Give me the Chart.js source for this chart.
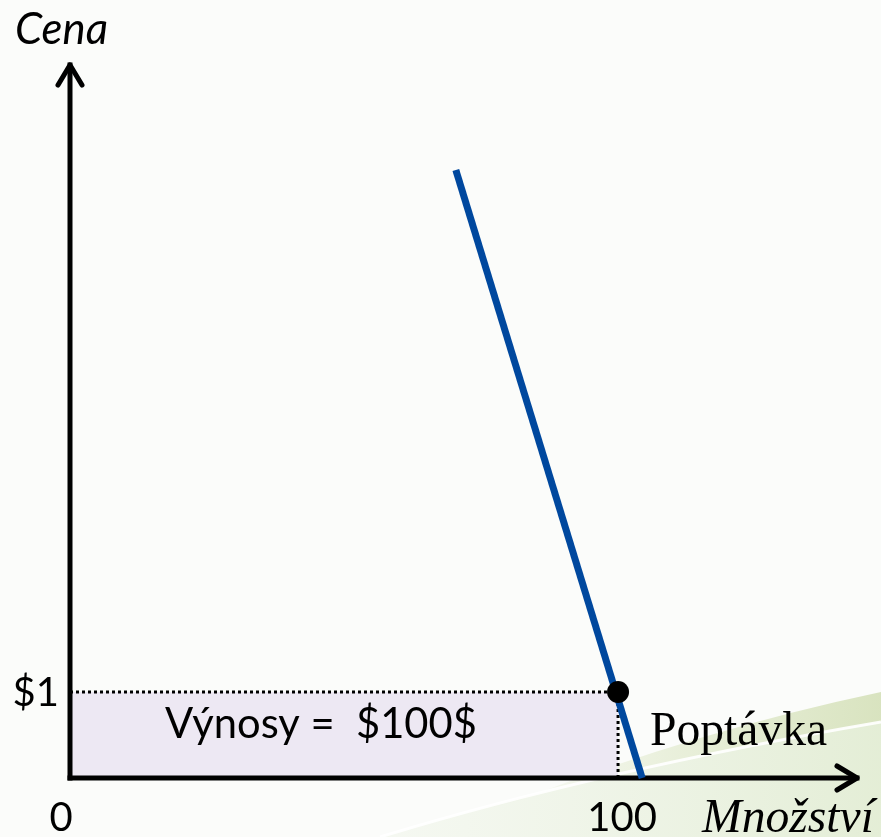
<!DOCTYPE html>
<html>
<head>
<meta charset="utf-8">
<script src="https://cdn.jsdelivr.net/npm/chart.js@4.4.0/dist/chart.umd.min.js"></script>
<style>
  html, body { margin: 0; padding: 0; background: #fbfcfa; }
  #wrap { width: 881px; height: 837px; position: relative; }
</style>
</head>
<body>
<div id="wrap"><canvas id="c" width="881" height="837"></canvas></div>
<script>
// ---- data ----
const axisLabels = ["Cena", "Množství"];
const quantityTicks = [0, 100];
const quantityTickLabels = ["0", "100"];
const priceTicks = [1];
const priceTickLabels = ["$1"];
const quantityRange = [0, 143.6];
const priceRange = [0, 8.29];
const demandQuantity = [70.4, 104.4];
const demandPrice = [7.07, 0];
const equilibriumQuantity = [100];
const equilibriumPrice = [1];
const demandLabel = "Poptávka";
const revenueLabel = "Výnosy =  $100$";

// ---- build datasets from arrays ----
const demandPts = demandQuantity.map((q, i) => ({ x: q, y: demandPrice[i] }));
const eqPts = equilibriumQuantity.map((q, i) => ({ x: q, y: equilibriumPrice[i] }));
const revTop = [{ x: quantityRange[0], y: equilibriumPrice[0] }, { x: equilibriumQuantity[0], y: equilibriumPrice[0] }];
const revSide = [{ x: equilibriumQuantity[0], y: priceRange[0] }, { x: equilibriumQuantity[0], y: equilibriumPrice[0] }];
const xAxisPts = [{ x: quantityRange[0], y: priceRange[0] }, { x: quantityRange[1], y: priceRange[0] }];
const yAxisPts = [{ x: quantityRange[0], y: priceRange[0] }, { x: quantityRange[0], y: priceRange[1] }];

function fitFont(ctx, text, width, style, family) {
  ctx.font = style + ' 100px ' + family;
  const w = ctx.measureText(text).width;
  const size = Math.max(10, 100 * width / w);
  ctx.font = style + ' ' + size.toFixed(1) + 'px ' + family;
}

const bgPlugin = {
  id: 'bg',
  beforeDraw(chart) {
    const ctx = chart.ctx;
    ctx.save();
    ctx.fillStyle = '#fbfcfa';
    ctx.fillRect(0, 0, 881, 837);
    // green band above the streak
    ctx.beginPath();
    ctx.moveTo(380, 837);
    ctx.quadraticCurveTo(600, 770, 881, 722);
    ctx.lineTo(881, 692);
    ctx.quadraticCurveTo(700, 730, 520, 800);
    ctx.closePath();
    let g = ctx.createLinearGradient(480, 0, 881, 0);
    g.addColorStop(0, 'rgba(205,220,170,0)');
    g.addColorStop(0.5, 'rgba(205,220,170,0.4)');
    g.addColorStop(1, 'rgba(198,214,160,0.65)');
    ctx.fillStyle = g;
    ctx.fill();
    // pale area below the streak
    ctx.beginPath();
    ctx.moveTo(380, 837);
    ctx.quadraticCurveTo(600, 770, 881, 722);
    ctx.lineTo(881, 837);
    ctx.closePath();
    let g2 = ctx.createLinearGradient(380, 0, 881, 0);
    g2.addColorStop(0, 'rgba(232,240,222,0.3)');
    g2.addColorStop(1, 'rgba(222,234,205,0.8)');
    ctx.fillStyle = g2;
    ctx.fill();
    // bright streak
    ctx.beginPath();
    ctx.moveTo(380, 837);
    ctx.quadraticCurveTo(600, 770, 881, 722);
    ctx.strokeStyle = 'rgba(255,255,255,0.9)';
    ctx.lineWidth = 3;
    ctx.stroke();
    ctx.restore();
  }
};

const annotPlugin = {
  id: 'annot',
  afterDatasetsDraw(chart) {
    const ctx = chart.ctx;
    const xs = chart.scales.x, ys = chart.scales.y;
    ctx.save();
    // arrowheads
    ctx.strokeStyle = '#000';
    ctx.lineWidth = 5;
    ctx.lineCap = 'round';
    ctx.lineJoin = 'round';
    const tx = xs.getPixelForValue(quantityRange[1]), ty = ys.getPixelForValue(priceRange[0]);
    ctx.beginPath();
    ctx.moveTo(tx - 20, ty - 12); ctx.lineTo(tx, ty); ctx.lineTo(tx - 20, ty + 12);
    ctx.stroke();
    const ux = xs.getPixelForValue(quantityRange[0]), uy = ys.getPixelForValue(priceRange[1]);
    ctx.beginPath();
    ctx.moveTo(ux - 12, uy + 20); ctx.lineTo(ux, uy); ctx.lineTo(ux + 12, uy + 20);
    ctx.stroke();

    ctx.fillStyle = '#000';
    ctx.textBaseline = 'alphabetic';
    ctx.textAlign = 'left';
    // axis title Cena
    fitFont(ctx, axisLabels[0], 93, 'italic', 'Lato');
    ctx.fillText(axisLabels[0], 15, 44);
    // axis title Množství
    fitFont(ctx, axisLabels[1], 172, 'italic', '"Liberation Serif"');
    ctx.fillText(axisLabels[1], 702, 832);
    // quantity ticks
    ctx.textAlign = 'center';
    ctx.font = '40px Lato';
    quantityTicks.forEach((v, i) => {
      const off = (i === 0) ? -9 : 4;
      ctx.fillText(quantityTickLabels[i], xs.getPixelForValue(v) + off, 831);
    });
    // price ticks
    ctx.textAlign = 'right';
    ctx.font = '40px Lato';
    priceTicks.forEach((v, i) => {
      ctx.fillText(priceTickLabels[i], 59, ys.getPixelForValue(v) + 14);
    });
    // revenue label
    ctx.textAlign = 'left';
    fitFont(ctx, revenueLabel, 312, '', 'Lato');
    ctx.fillText(revenueLabel, 165, 738);
    // demand label
    fitFont(ctx, demandLabel, 177, '', '"Liberation Serif"');
    ctx.fillText(demandLabel, 650, 745);
    ctx.restore();
  }
};

new Chart(document.getElementById('c'), {
  type: 'scatter',
  data: {
    datasets: [
      { data: eqPts, pointRadius: 11, pointBackgroundColor: '#000', pointBorderWidth: 0, showLine: false, order: 0, clip: false },
      { data: demandPts, showLine: true, borderColor: '#00489e', borderWidth: 7, pointRadius: 0, order: 1, clip: false },
      { data: xAxisPts, showLine: true, borderColor: '#000', borderWidth: 5, pointRadius: 0, borderCapStyle: 'square', order: 2, clip: false },
      { data: yAxisPts, showLine: true, borderColor: '#000', borderWidth: 5, pointRadius: 0, borderCapStyle: 'square', order: 2, clip: false },
      { data: revSide, showLine: true, borderColor: '#000', borderWidth: 3, borderDash: [3, 3], pointRadius: 0, order: 3, clip: false },
      { data: revTop, showLine: true, borderColor: '#000', borderWidth: 3, borderDash: [3, 3], pointRadius: 0,
        fill: 'origin', backgroundColor: '#ede8f3', order: 4, clip: false }
    ]
  },
  options: {
    responsive: false,
    animation: false,
    layout: { padding: { left: 70, right: 24, top: 65, bottom: 59 } },
    scales: {
      x: { type: 'linear', min: quantityRange[0], max: quantityRange[1], display: false },
      y: { type: 'linear', min: priceRange[0], max: priceRange[1], display: false }
    },
    plugins: { legend: { display: false }, tooltip: { enabled: false } },
    elements: { line: { tension: 0 } }
  },
  plugins: [bgPlugin, annotPlugin]
});
</script>
</body>
</html>
